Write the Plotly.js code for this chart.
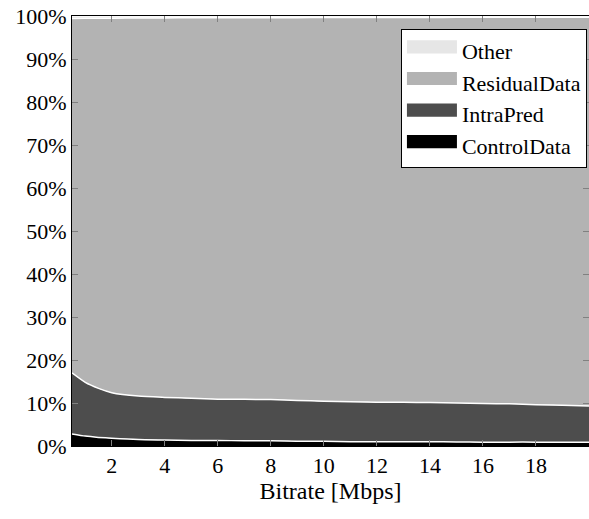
<!DOCTYPE html>
<html>
<head>
<meta charset="utf-8">
<script src="https://cdn.plot.ly/plotly-3.0.1.min.js"></script>
<style>html,body{margin:0;padding:0;background:#fff;}#chart{width:589px;height:519px;}</style>
</head>
<body>
<div id="chart"></div>
<script>
const bitrate = [0.5, 1, 1.5, 2, 3, 4, 5, 6, 7, 8, 9, 10, 11, 12, 13, 14, 15, 16, 17, 18, 19, 20];
const controlData = [2.8, 2.3, 2.0, 1.8, 1.5, 1.4, 1.3, 1.3, 1.2, 1.2, 1.1, 1.1, 1.0, 1.0, 1.0, 1.0, 0.95, 0.9, 0.9, 0.9, 0.85, 0.85];
const intraTop = [17.0, 14.8, 13.4, 12.4, 11.6, 11.3, 11.1, 10.9, 10.85, 10.8, 10.6, 10.4, 10.3, 10.2, 10.15, 10.1, 10.0, 9.9, 9.8, 9.6, 9.5, 9.3];
const intraPred = intraTop.map((v, i) => +(v - controlData[i]).toFixed(2));
const other = [0.6, 0.55, 0.5, 0.5, 0.45, 0.45, 0.4, 0.4, 0.4, 0.4, 0.4, 0.35, 0.35, 0.35, 0.35, 0.35, 0.3, 0.3, 0.3, 0.3, 0.3, 0.3];
const residualData = intraTop.map((v, i) => +(100 - v - other[i]).toFixed(2));
const yTickVals = [0, 10, 20, 30, 40, 50, 60, 70, 80, 90, 100];
const yTickText = yTickVals.map(v => v + '%');
const xTickVals = [2, 4, 6, 8, 10, 12, 14, 16, 18];

const series = [
  {name: 'ControlData', y: controlData, color: '#000000'},
  {name: 'IntraPred', y: intraPred, color: '#4d4d4d'},
  {name: 'ResidualData', y: residualData, color: '#b3b3b3'},
  {name: 'Other', y: other, color: '#e6e6e6'}
];
const traces = series.map(s => ({
  type: 'scatter', mode: 'lines', x: bitrate, y: s.y, name: s.name,
  stackgroup: 'one', fillcolor: s.color,
  line: {color: '#ffffff', width: 1.5, shape: 'spline', smoothing: 0.6}
}));

const fam = 'Liberation Serif, Times New Roman, serif';
const layout = {
  width: 589, height: 519,
  margin: {l: 72, r: 0, t: 16, b: 73},
  paper_bgcolor: '#fff', plot_bgcolor: '#fff',
  font: {family: fam, color: '#000', size: 22},
  showlegend: true,
  legend: {
    x: 0.996, y: 0.97, xanchor: 'right', yanchor: 'top',
    bgcolor: '#fff', bordercolor: '#000', borderwidth: 1,
    traceorder: 'reversed', itemwidth: 50, tracegroupgap: 0,
    font: {family: fam, size: 22, color: '#000'}
  },
  xaxis: {
    range: [0.5, 20], tickvals: xTickVals, ticks: 'inside', ticklen: 6,
    tickcolor: '#808080', showgrid: false, zeroline: false,
    showline: true, linecolor: '#000', linewidth: 1, mirror: 'ticks',
    title: {text: 'Bitrate [Mbps]', font: {family: fam, size: 24}, standoff: 4},
    tickfont: {family: fam, size: 22}
  },
  yaxis: {
    range: [0, 100], tickvals: yTickVals, ticktext: yTickText, ticks: 'inside', ticklen: 6,
    tickcolor: '#808080', showgrid: false, zeroline: false,
    showline: true, linecolor: '#000', linewidth: 1, mirror: 'ticks',
    tickfont: {family: fam, size: 22}
  }
};
Plotly.newPlot('chart', traces, layout, {displayModeBar: false, staticPlot: true}).then(gd => {
  gd.querySelectorAll('.legend .legendfill path').forEach(p => {
    p.setAttribute('transform', 'translate(0,-6) scale(1,2.2)');
  });
  gd.querySelectorAll('.legend .legendlines path').forEach(p => {
    p.style.display = 'none';
  });
});
</script>
</body>
</html>
